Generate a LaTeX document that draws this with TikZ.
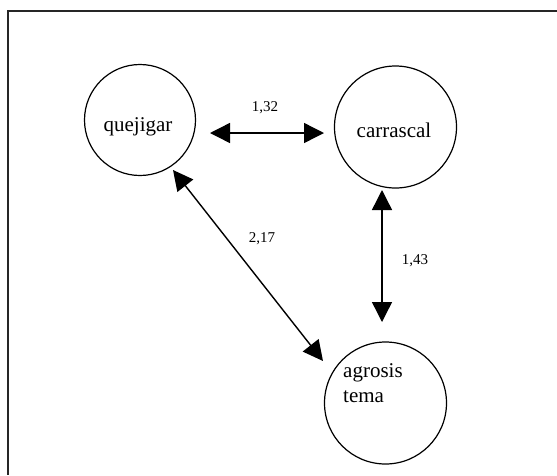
\documentclass[tikz,border=0pt]{standalone}
\usepackage{fontspec}
\setmainfont{Liberation Serif}
\usetikzlibrary{arrows.meta}
\begin{document}
\begin{tikzpicture}[x=1pt,y=-1pt,
  site/.style={draw, circle, line width=1.2pt, inner sep=0pt, minimum size=#1},
  sitelabel/.style={anchor=base, font=\fontsize{21}{25}\selectfont, inner sep=0pt},
  agrolabel/.style={anchor=base west, font=\fontsize{21}{25}\selectfont, inner sep=0pt, align=left},
  weight/.style={font=\fontsize{15}{17}\selectfont, inner sep=0pt},
  link/.style={line width=1.4pt, {Triangle[length=20pt,width=20pt]}-{Triangle[length=20pt,width=20pt]}},
  frameline/.style={line width=1.4pt, black!85}]
  \useasboundingbox (0,0) rectangle (557,475);

  % open frame: top and left edges only
  \coordinate (fcorner) at (8,11);
  \coordinate (ftop) at (557,11);
  \coordinate (fleft) at (8,475);
  \draw[frameline] (ftop) -- (fcorner) -- (fleft);

  % sites
  \node[site=111pt] (quejigar) at (140,120) {};
  \node[site=122pt] (carrascal) at (395.5,127) {};
  \node[site=122pt] (agrosis) at (385.5,403) {};

  \node[sitelabel] (tq) at (138,131) {quejigar};
  \node[sitelabel] (tc) at (394,137) {carrascal};
  \node[agrolabel] (ta) at (343,402) {agrosis\\tema};

  % arrow end points
  \coordinate (qc1) at (210,133);
  \coordinate (qc2) at (324,133);
  \coordinate (qa1) at (173,170);
  \coordinate (qa2) at (323,361);
  \coordinate (ca1) at (382,190);
  \coordinate (ca2) at (382,322);

  \draw[link] (qc1) -- (qc2);
  \draw[link] (qa1) -- (qa2);
  \draw[link] (ca1) -- (ca2);

  % weights
  \node[weight] (w1) at (265,108) {1,32};
  \node[weight] (w2) at (262,239) {2,17};
  \node[weight] (w3) at (415,261) {1,43};
\end{tikzpicture}
\end{document}
